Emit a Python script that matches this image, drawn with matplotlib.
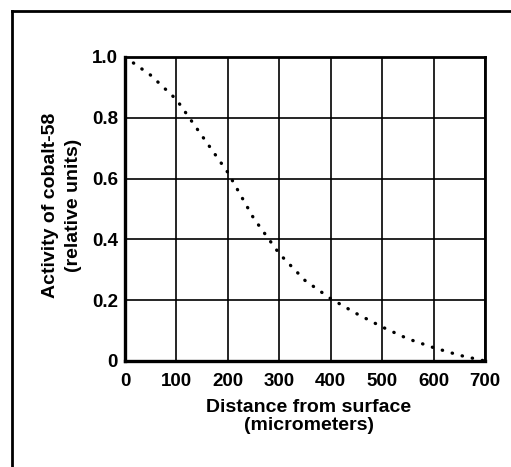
import matplotlib.pyplot as plt
from matplotlib.lines import Line2D

# values
distance = [0, 50, 100, 150, 200, 250, 300, 350, 400, 450, 500, 550, 600, 650, 700]
activity = [1.0, 0.94, 0.86, 0.74, 0.62, 0.47, 0.353, 0.265, 0.205, 0.156, 0.112, 0.073, 0.044, 0.019, 0.0]

x_ticks = [0, 100, 200, 300, 400, 500, 600, 700]
y_ticks = [0, 0.2, 0.4, 0.6, 0.8, 1.0]
y_tick_labels = ['0', '0.2', '0.4', '0.6', '0.8', '1.0']


def main():
    plt.rcParams['font.family'] = ['Liberation Sans', 'DejaVu Sans']
    fig = plt.figure(figsize=(5.11, 4.67), dpi=100)
    ax = fig.add_axes([0.2446, 0.227, 0.7045, 0.651])

    ax.plot(distance, activity, color='black', linewidth=2.4,
            linestyle=(0, (0.1, 3.0)), dash_capstyle='round')

    ax.set_xlim(0, 700)
    ax.set_ylim(0, 1.0)
    ax.set_xticks(x_ticks)
    ax.set_yticks(y_ticks)
    ax.set_yticklabels(y_tick_labels)
    ax.tick_params(length=0, labelsize=13.5)
    ax.tick_params(axis='x', pad=9)
    ax.tick_params(axis='y', pad=5)
    for lab in ax.get_xticklabels() + ax.get_yticklabels():
        lab.set_fontweight('bold')
    ax.grid(True, color='black', linewidth=1.2)
    for side in ['left', 'bottom']:
        ax.spines[side].set_linewidth(2.4)
    for side in ['right', 'top']:
        ax.spines[side].set_linewidth(2.0)

    ax.set_xlabel("Distance from surface\n(micrometers)", fontsize=14,
                  fontweight='bold', linespacing=1.1)
    ax.set_ylabel("Activity of cobalt-58\n(relative units)", fontsize=14,
                  fontweight='bold', linespacing=1.45)
    ax.xaxis.set_label_coords(0.51, -0.125)
    ax.yaxis.set_label_coords(-0.12, 0.513)

    # outer frame (top and left edges of the box)
    fig.add_artist(Line2D([12 / 511, 12 / 511], [0, 1 - 11 / 467],
                          transform=fig.transFigure, color='black', linewidth=2))
    fig.add_artist(Line2D([12 / 511, 1], [1 - 11 / 467, 1 - 11 / 467],
                          transform=fig.transFigure, color='black', linewidth=2))

    fig.savefig('out.png', dpi=100)


if __name__ == '__main__':
    main()
